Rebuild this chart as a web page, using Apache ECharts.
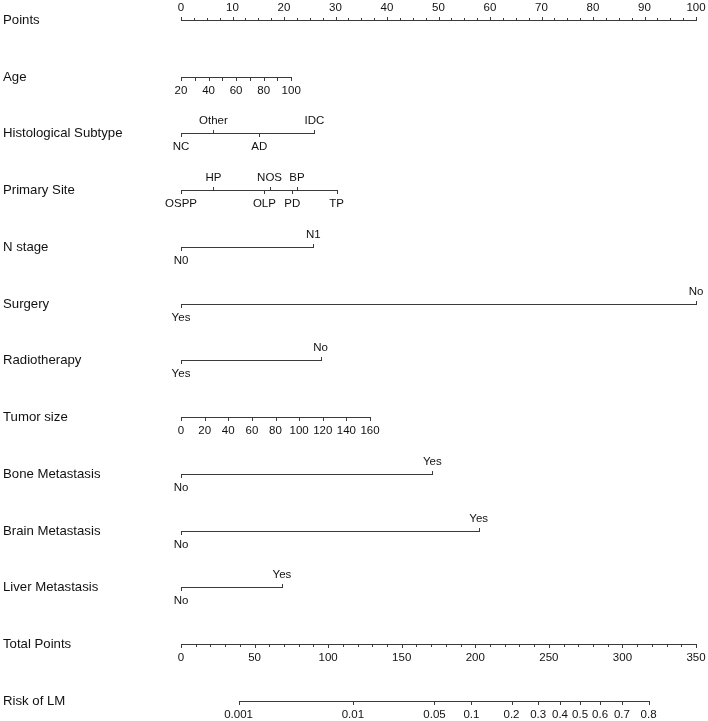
<!DOCTYPE html>
<html>
<head>
<meta charset="utf-8">
<script src="https://cdn.jsdelivr.net/npm/echarts@6/dist/echarts.min.js"></script>
<style>html,body{margin:0;padding:0;background:#fff}#c{width:708px;height:721px}</style>
</head>
<body>
<div id="c"></div>
<script>
// ---- data ----
const rowNames = ['Points','Age','Histological Subtype','Primary Site','N stage','Surgery','Radiotherapy','Tumor size','Bone Metastasis','Brain Metastasis','Liver Metastasis','Total Points','Risk of LM'];

const pointsMajor = [0,10,20,30,40,50,60,70,80,90,100];
const pointsMinorStep = 2.5;

const ageTicks = [20,30,40,50,60,70,80,90,100];
const ageLabels = [20,40,60,80,100];
const ageRange = [20,100];
const agePoints = [0,21.4];

const histCats = ['NC','Other','AD','IDC'];
const histPts  = [0,6.3,15.2,25.9];

const siteCats = ['OSPP','HP','OLP','NOS','PD','BP','TP'];
const sitePts  = [0,6.3,16.2,17.2,21.6,22.5,30.2];

const nCats = ['N0','N1'];
const nPts  = [0,25.7];

const surgCats = ['Yes','No'];
const surgPts  = [0,100];

const radioCats = ['Yes','No'];
const radioPts  = [0,27.1];

const tumorTicks = [0,20,40,60,80,100,120,140,160];
const tumorRange = [0,160];
const tumorPoints = [0,36.7];

const boneCats = ['No','Yes'];
const bonePts  = [0,48.8];

const brainCats = ['No','Yes'];
const brainPts  = [0,57.8];

const liverCats = ['No','Yes'];
const liverPts  = [0,19.6];

const totalMajor = [0,50,100,150,200,250,300,350];
const totalMinorStep = 10;
const totalMax = 350;

const riskTicks = [0.001,0.01,0.05,0.1,0.2,0.3,0.4,0.5,0.6,0.7,0.8];
const totalAtHalfRisk = 271.2;
const totalPerLogit = 33.6;

// ---- scale helpers (map each scale onto the Points axis) ----
function lin(v, r, p){ return p[0] + (v - r[0]) * (p[1]-p[0]) / (r[1]-r[0]); }
function totalToPts(t){ return t * 100 / totalMax; }
function riskToPts(r){ const lp = Math.log(r/(1-r)); return totalToPts(totalAtHalfRisk + lp*totalPerLogit); }
function fmt(v){ return String(v); }

function catSpec(cats, pts){
  const order = pts.map((p,i)=>i).sort((a,b)=>pts[a]-pts[b]);
  const ticks = [], labels = [];
  order.forEach((idx, k)=>{
    const side = (k % 2 === 0) ? 1 : -1; // 1 below, -1 above
    ticks.push({x: pts[idx], dir: side, len: 3.5});
    labels.push({x: pts[idx], text: cats[idx], side: side});
  });
  return {x0: Math.min(...pts), x1: Math.max(...pts), ticks, labels};
}

const specs = [];
// Points
(function(){
  const ticks = [], labels = [];
  for (let v = 0; v <= 100 + 1e-9; v += pointsMinorStep) {
    const major = pointsMajor.indexOf(v) >= 0;
    ticks.push({x: v, dir: -1, len: major ? 3.5 : 2.5});
  }
  pointsMajor.forEach(v => labels.push({x: v, text: fmt(v), side: -1}));
  specs.push({x0:0, x1:100, ticks, labels});
})();
// Age
specs.push({
  x0: lin(ageRange[0], ageRange, agePoints), x1: lin(ageRange[1], ageRange, agePoints),
  ticks: ageTicks.map(v => ({x: lin(v, ageRange, agePoints), dir: 1, len: 3.5})),
  labels: ageLabels.map(v => ({x: lin(v, ageRange, agePoints), text: fmt(v), side: 1}))
});
specs.push(catSpec(histCats, histPts));
specs.push(catSpec(siteCats, sitePts));
specs.push(catSpec(nCats, nPts));
specs.push(catSpec(surgCats, surgPts));
specs.push(catSpec(radioCats, radioPts));
// Tumor size
specs.push({
  x0: lin(tumorRange[0], tumorRange, tumorPoints), x1: lin(tumorRange[1], tumorRange, tumorPoints),
  ticks: tumorTicks.map(v => ({x: lin(v, tumorRange, tumorPoints), dir: 1, len: 3.5})),
  labels: tumorTicks.map(v => ({x: lin(v, tumorRange, tumorPoints), text: fmt(v), side: 1}))
});
specs.push(catSpec(boneCats, bonePts));
specs.push(catSpec(brainCats, brainPts));
specs.push(catSpec(liverCats, liverPts));
// Total points
(function(){
  const ticks = [], labels = [];
  for (let v = 0; v <= totalMax + 1e-9; v += totalMinorStep) {
    const major = totalMajor.indexOf(v) >= 0;
    ticks.push({x: totalToPts(v), dir: 1, len: major ? 3.5 : 2.5});
  }
  totalMajor.forEach(v => labels.push({x: totalToPts(v), text: fmt(v), side: 1}));
  specs.push({x0: 0, x1: totalToPts(totalMax), ticks, labels});
})();
// Risk
specs.push({
  x0: riskToPts(riskTicks[0]), x1: riskToPts(riskTicks[riskTicks.length-1]),
  ticks: riskTicks.map(v => ({x: riskToPts(v), dir: 1, len: 3.5})),
  labels: riskTicks.map(v => ({x: riskToPts(v), text: fmt(v), side: 1}))
});

const FONT = '"Liberation Sans", Arial, Helvetica, sans-serif';
const LINE = '#3a3a3a';

function renderItem(params, api){
  const i = params.dataIndex;
  const s = specs[i];
  const y = Math.round(api.coord([0, i])[1]) + 0.5;
  const px = v => Math.round(api.coord([v, i])[0]) + 0.5;
  const children = [];
  children.push({type:'text', style:{x:3, y:y, text:rowNames[i], font:'13.2px '+FONT, fill:'#111', align:'left', verticalAlign:'middle'}});
  children.push({type:'line', shape:{x1:px(s.x0)-0.5, y1:y, x2:px(s.x1)+0.5, y2:y}, style:{stroke:LINE, lineWidth:1}});
  s.ticks.forEach(t => {
    const x = px(t.x);
    children.push({type:'line', shape:{x1:x, y1:y, x2:x, y2:y + t.dir*t.len}, style:{stroke:LINE, lineWidth:1}});
  });
  s.labels.forEach(l => {
    const x = api.coord([l.x, i])[0];
    children.push({type:'text', style:{x:x, y: y + (l.side > 0 ? 13.5 : -12.5), text:l.text, font:'11.5px '+FONT, fill:'#111', align:'center', verticalAlign:'middle'}});
  });
  return {type:'group', children};
}

const chart = echarts.init(document.getElementById('c'), null, {renderer:'canvas'});
chart.setOption({
  animation:false,
  grid:{left:181, right:12, top:20, bottom:20.3},
  xAxis:{type:'value', min:0, max:100, show:false},
  yAxis:{type:'value', min:0, max:12, inverse:true, show:false},
  series:[{
    type:'custom',
    coordinateSystem:'cartesian2d',
    clip:false,
    renderItem: renderItem,
    data: rowNames.map((n,i)=>[0,i])
  }]
});
</script>
</body>
</html>
